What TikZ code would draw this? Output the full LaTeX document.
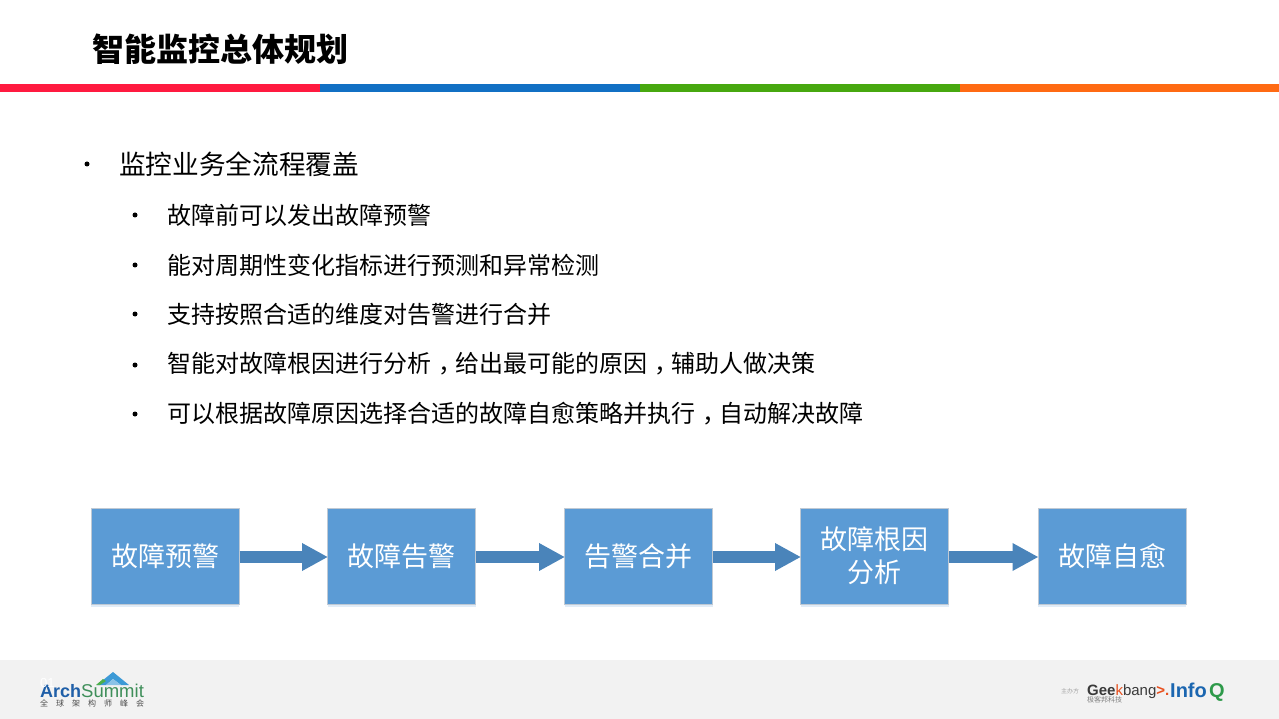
\documentclass[tikz,border=0pt]{standalone}
\usepackage{fontspec}
\setmainfont{Noto Sans CJK SC}
\newfontfamily\latinf{Liberation Sans}
\usetikzlibrary{arrows.meta,shadows}
\definecolor{boxblue}{HTML}{5B9BD5}
\definecolor{boxline}{HTML}{BFC9D4}
\definecolor{arrowblue}{HTML}{4A84BA}
\definecolor{bandred}{HTML}{FF1A40}
\definecolor{bandblue}{HTML}{1170C4}
\definecolor{bandgreen}{HTML}{47A80F}
\definecolor{bandorange}{HTML}{FF6A13}
\definecolor{footgray}{HTML}{F2F2F2}
\definecolor{archblue}{HTML}{1F5FA8}
\definecolor{sumgreen}{HTML}{3F8F5A}
\definecolor{peakblue}{HTML}{3D9AD6}
\definecolor{infoblue}{HTML}{1B66B0}
\definecolor{infogreen}{HTML}{2E9A4A}
\definecolor{geekgray}{HTML}{3A3A3A}
\definecolor{geekred}{HTML}{E8501E}
\newcommand{\ucomma}{\makebox[24pt][l]{\hspace{7pt}，}}
\tikzset{
  flowbox/.style={draw=boxline,line width=1pt,fill=boxblue,minimum width=148pt,minimum height=96pt,
    inner sep=0pt,text=white,align=center,font=\fontsize{27}{33}\selectfont,
    drop shadow={shadow xshift=0pt,shadow yshift=-3pt,fill=boxblue,opacity=.18}},
  flowarrow/.style={arrowblue,line width=12pt,-{Triangle[length=26pt,width=26pt]},shorten >=-1pt},
  lineone/.style={anchor=west,inner sep=0pt,font=\fontsize{26.67}{30}\selectfont,text=black},
  linetwo/.style={anchor=west,inner sep=0pt,font=\fontsize{24}{28}\selectfont,text=black},
  dotmark/.style={circle,fill=black,inner sep=0pt,minimum size=5pt}
}
\begin{document}
\begin{tikzpicture}[x=1pt,y=-1pt]
\useasboundingbox (0,0) rectangle (1279,719);
\fill[white] (0,0) rectangle (1279,719);
% title and band
\node[anchor=west,inner sep=0pt,font=\fontsize{32}{38}\selectfont\bfseries,text=black] (title) at (92,49) {智能监控总体规划};
\fill[bandred] (0,84) rectangle (320,92);
\fill[bandblue] (320,84) rectangle (640,92);
\fill[bandgreen] (640,84) rectangle (960,92);
\fill[bandorange] (960,84) rectangle (1279,92);
% bullets
\node[dotmark] (b0) at (87,164) {};
\node[lineone] (t0) at (119,164) {监控业务全流程覆盖};
\node[dotmark] (b1) at (135,215) {};
\node[linetwo] (t1) at (167,215) {故障前可以发出故障预警};
\node[dotmark] (b2) at (135,265) {};
\node[linetwo] (t2) at (167,265) {能对周期性变化指标进行预测和异常检测};
\node[dotmark] (b3) at (135,314) {};
\node[linetwo] (t3) at (167,314) {支持按照合适的维度对告警进行合并};
\node[dotmark] (b4) at (135,365) {};
\node[linetwo] (t4) at (167,364) {智能对故障根因进行分析\ucomma 给出最可能的原因\ucomma 辅助人做决策};
\node[dotmark] (b5) at (135,414) {};
\node[linetwo] (t5) at (167,414) {可以根据故障原因选择合适的故障自愈策略并执行\ucomma 自动解决故障};
% flow
\node[flowbox] (f1) at (165,556) {\raisebox{2pt}{故障预警}};
\node[flowbox] (f2) at (401.5,556) {\raisebox{2pt}{故障告警}};
\node[flowbox] (f3) at (638.5,556) {\raisebox{2pt}{告警合并}};
\node[flowbox] (f4) at (874.5,556) {\raisebox{1pt}{故障根因}\\\raisebox{1pt}{分析}};
\node[flowbox] (f5) at (1112,556) {\raisebox{2pt}{故障自愈}};
\draw[flowarrow,transform canvas={yshift=-1pt}] (f1.east) -- (f2.west);
\draw[flowarrow,transform canvas={yshift=-1pt}] (f2.east) -- (f3.west);
\draw[flowarrow,transform canvas={yshift=-1pt}] (f3.east) -- (f4.west);
\draw[flowarrow,transform canvas={yshift=-1pt}] (f4.east) -- (f5.west);
% footer
\fill[footgray] (0,660) rectangle (1279,719);
% ArchSummit logo
\fill[peakblue] (97,685) -- (113,672) -- (129,685) -- (121,685) -- (113,679) -- (106,685) -- cycle;
\fill[peakblue!60] (106,685) -- (113,679) -- (121,685) -- cycle;
\fill[green!55!black!70] (96,685) -- (103,679) -- (106,681) -- (100,685) -- cycle;
\node[anchor=base west,inner sep=0pt,text=archblue,font=\latinf\fontsize{18}{20}\selectfont\bfseries] (arch) at (40,697) {Arch};
\node[anchor=base west,inner sep=0pt,text=sumgreen,font=\latinf\fontsize{18.5}{20}\selectfont] (summit) at (81,697) {Summit};
\node[anchor=base west,inner sep=0pt,text=black!70,font=\fontsize{8}{9}\selectfont] (cn) at (40,706.5) {全\hspace{8pt}球\hspace{8pt}架\hspace{8pt}构\hspace{8pt}师\hspace{8pt}峰\hspace{8pt}会};
\node[anchor=base west,inner sep=0pt,text=white,font=\latinf\fontsize{13}{13}\selectfont] (pg) at (40,687) {01};
% sponsors
\node[anchor=west,inner sep=0pt,text=black!35,font=\fontsize{6}{7}\selectfont] (host) at (1061,691) {主办方};
\node[anchor=base west,inner sep=0pt,text=geekgray,font=\latinf\fontsize{15}{16}\selectfont] (geek) at (1087,695) {\textbf{Gee}\textcolor{geekred}{k}bang\textcolor{geekred}{\textbf{>.}}};
\node[anchor=base west,inner sep=0pt,text=black!50,font=\fontsize{7}{8}\selectfont] (gkcn) at (1087,702.5) {极客邦科技};
\node[anchor=base west,inner sep=0pt,text=infoblue,font=\latinf\fontsize{20}{21}\selectfont\bfseries] (info) at (1170,697) {Info};
\node[anchor=base west,inner sep=0pt,text=infogreen,font=\latinf\fontsize{20}{21}\selectfont\bfseries] (q) at (1209,697) {Q};
\end{tikzpicture}
\end{document}
